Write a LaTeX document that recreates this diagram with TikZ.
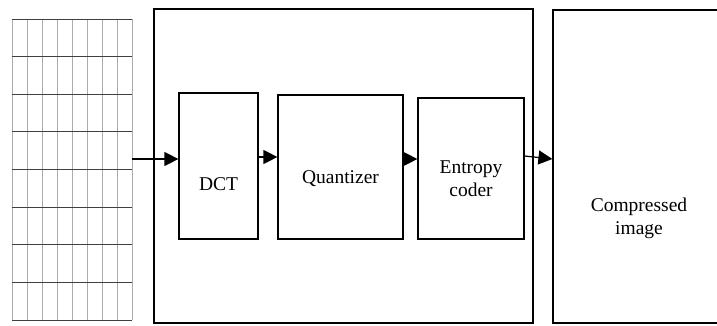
\documentclass[tikz,border=0pt]{standalone}
\usepackage{fontspec}
\setmainfont{Liberation Serif}
\usetikzlibrary{arrows.meta}

\begin{document}
\begin{tikzpicture}[x=1pt, y=-1pt,
    box/.style={draw, line width=1.2pt, inner sep=0pt},
    txt/.style={inner sep=0pt, align=center, font=\fontsize{19.5}{23}\selectfont},
    flow/.style={line width=1.2pt, -{Triangle[length=14pt, width=14pt]}}]
    \useasboundingbox (0,0) rectangle (717,325);

    % Image blocks
    \node[inner sep=0pt, minimum width=120pt, minimum height=301pt] (blocks) at (72,169.5) {};
    \foreach \x in {0,...,8}
        \draw[gray!65, line width=0.8pt] (12+15*\x,19) -- (12+15*\x,320);
    \foreach \y in {0,...,8}
        \draw[black!75, line width=0.8pt] (12,19+37.625*\y) -- (132,19+37.625*\y);

    % Encoder
    \node[box, minimum width=379pt, minimum height=314pt] (encoder) at (343.5,166) {};
    \node[box, minimum width=79pt, minimum height=146pt] (dct) at (218.5,166) {};
    \node[box, minimum width=125pt, minimum height=144pt] (quant) at (340.5,167) {};
    \node[box, minimum width=106pt, minimum height=141pt] (entropy) at (471,168.5) {};
    \node[txt] (dcttext) at (218.5,184) {DCT};
    \node[txt] (quanttext) at (340.5,179) {Quantizer};
    \node[txt] (entropytext) at (471,179) {Entropy\\coder};

    % Output
    \node[box, minimum width=172pt, minimum height=313pt] (output) at (639,166.5) {};
    \node[txt] (outputtext) at (639,218) {Compressed\\image};

    % Arrows
    \draw[flow] (blocks.east |- 0,159) -- (dct.west |- 0,159);
    \draw[flow] (dct.east |- 0,157) -- (quant.west |- 0,157);
    \draw[flow] (quant.east |- 0,159) -- (entropy.west |- 0,159);
    \draw[flow] (entropy.east |- 0,156) -- (output.west |- 0,159);
\end{tikzpicture}
\end{document}
